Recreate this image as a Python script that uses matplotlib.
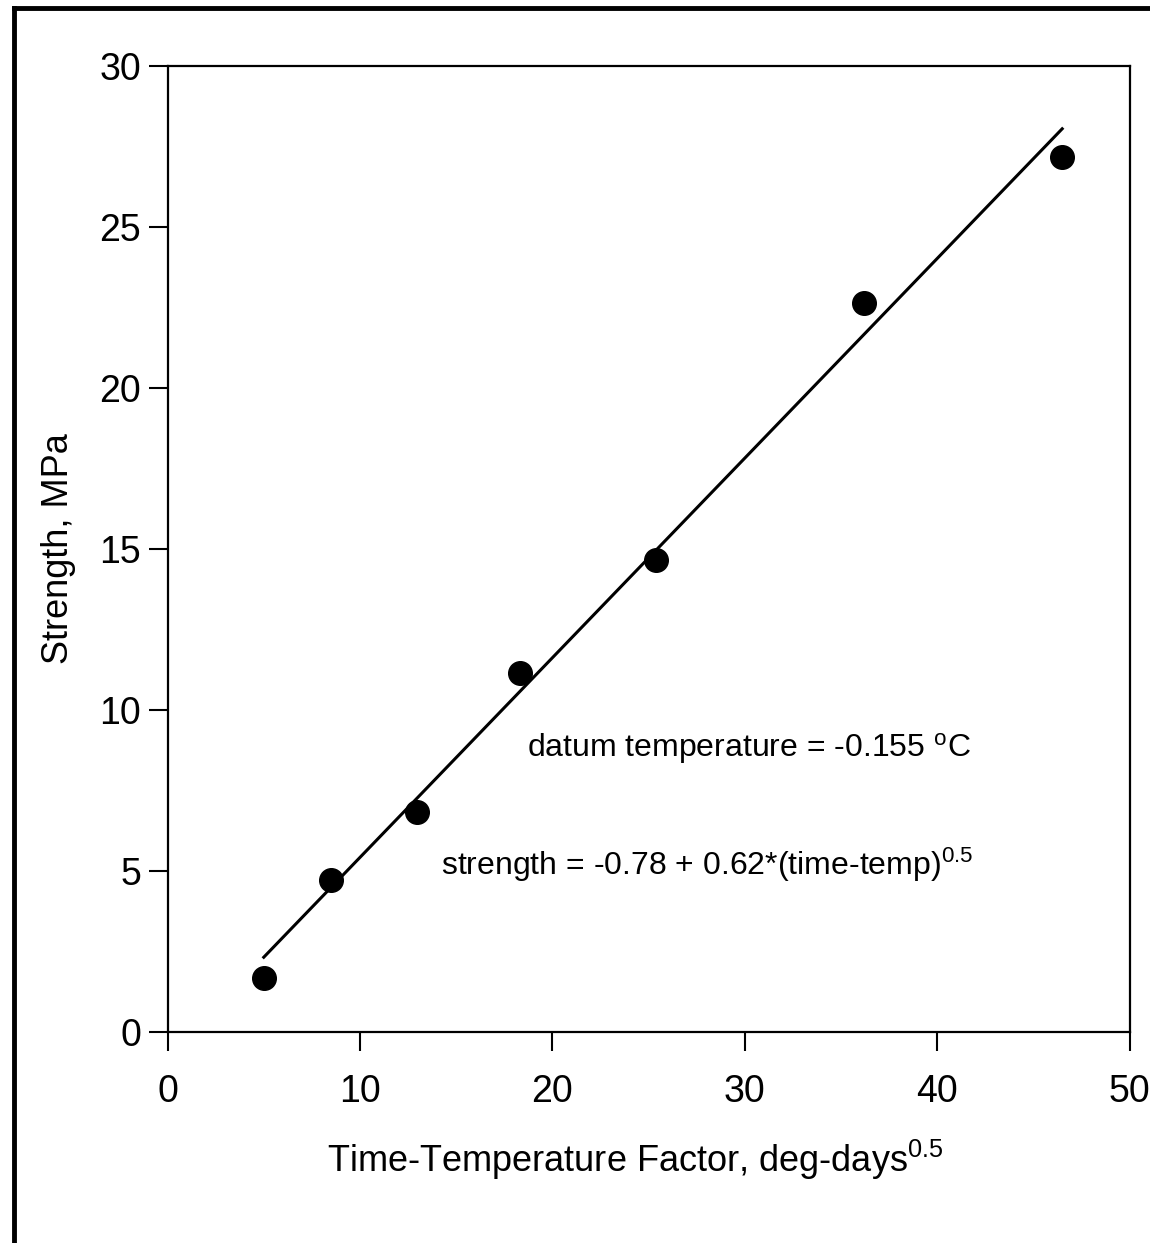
import numpy as np
import matplotlib.pyplot as plt
from matplotlib.lines import Line2D

plt.rcParams["font.family"] = ["Liberation Sans", "DejaVu Sans"]
plt.rcParams["mathtext.fontset"] = "custom"
plt.rcParams["mathtext.rm"] = "Liberation Sans"
plt.rcParams["mathtext.it"] = "Liberation Sans"

# measured strength vs time-temperature factor
ttf = np.array([5.0, 8.5, 12.95, 18.3, 25.4, 36.2, 46.5])
strength = np.array([1.66, 4.73, 6.84, 11.14, 14.67, 22.65, 27.17])

# regression from the annotation
INTERCEPT = -0.78
SLOPE = 0.62

x_ticks = [0, 10, 20, 30, 40, 50]
y_ticks = [0, 5, 10, 15, 20, 25, 30]

fig = plt.figure(figsize=(11.5, 12.43), dpi=100)
ax = fig.add_axes([0.1457, 0.1698, 0.8365, 0.7771])

fit_x = np.array([ttf.min(), ttf.max()])
ax.plot(fit_x, INTERCEPT + SLOPE * fit_x, color="black", lw=2.2, zorder=2)
ax.plot(ttf, strength, "o", color="black", ms=17, zorder=3)

ax.set_xlim(0, 50)
ax.set_ylim(0, 30)
ax.set_xticks(x_ticks)
ax.set_yticks(y_ticks)
ax.tick_params(direction="out", length=14, width=1.5, labelsize=27,
               colors="black")
ax.tick_params(axis="x", pad=16)
ax.tick_params(axis="y", pad=5)
for s in ax.spines.values():
    s.set_linewidth(1.6)

ax.set_xlabel(r"Time-Temperature Factor, deg-days$^{0.5}$", fontsize=26,
              labelpad=20)
ax.xaxis.label.set_x(0.486)
ax.set_ylabel("Strength, MPa", fontsize=26, labelpad=17)

ax.text(18.7, 8.8, r"datum temperature = -0.155 $^{\mathrm{o}}$C",
        fontsize=23, ha="left", va="center")
ax.text(14.2, 5.2, r"strength = -0.78 + 0.62*(time-temp)$^{0.5}$",
        fontsize=23, ha="left", va="center")

# outer page border (left and top edges)
fig.add_artist(Line2D([0.012, 0.012], [0.0, 0.9935], color="black",
                      lw=3.5, transform=fig.transFigure))
fig.add_artist(Line2D([0.012, 1.0], [0.9935, 0.9935], color="black",
                      lw=3.5, transform=fig.transFigure))

fig.savefig("out.png", dpi=100)
